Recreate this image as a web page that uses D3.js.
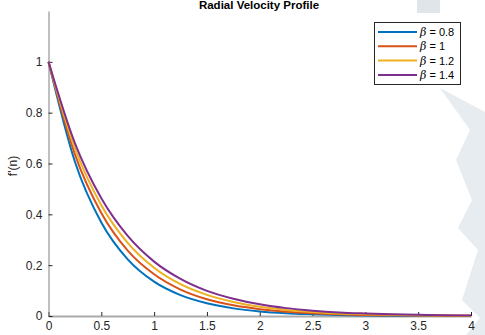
<!DOCTYPE html>
<html>
<head>
<meta charset="utf-8">
<script src="https://cdn.jsdelivr.net/npm/d3@7"></script>
<style>
  body { margin: 0; background: #fff; }
  svg { display: block; font-family: "Liberation Sans", Arial, sans-serif; }
</style>
</head>
<body>
<svg id="chart" width="485" height="335"></svg>
<script>
// eta positions where the curves were read
const eta = [0, 0.25, 0.5, 0.75, 1, 1.25, 1.5, 1.75, 2, 2.25, 2.5, 2.75, 3, 3.25, 3.5, 3.75, 4];

// f'(eta), one array per beta
const beta08 = [1, 0.607, 0.368, 0.223, 0.135, 0.082, 0.050, 0.030, 0.018, 0.011, 0.007, 0.004, 0.002, 0.001, 0.001, 0.000, 0.000];
const beta10 = [1, 0.636, 0.405, 0.257, 0.164, 0.104, 0.066, 0.042, 0.027, 0.017, 0.011, 0.007, 0.004, 0.003, 0.002, 0.001, 0.001];
const beta12 = [1, 0.660, 0.436, 0.288, 0.190, 0.125, 0.083, 0.055, 0.036, 0.024, 0.016, 0.010, 0.007, 0.005, 0.003, 0.002, 0.001];
const beta14 = [1, 0.680, 0.463, 0.315, 0.214, 0.146, 0.099, 0.068, 0.046, 0.031, 0.021, 0.014, 0.010, 0.007, 0.005, 0.003, 0.002];

const seriesNames = ["\u03B2 = 0.8", "\u03B2 = 1", "\u03B2 = 1.2", "\u03B2 = 1.4"];
const seriesValues = [beta08, beta10, beta12, beta14];
const colors = ["#0072BD", "#D95319", "#EDB120", "#7E2F8E"];

const xTicks = [0, 0.5, 1, 1.5, 2, 2.5, 3, 3.5, 4];
const yTicks = [0, 0.2, 0.4, 0.6, 0.8, 1];

const svg = d3.select("#chart");

// faint background watermark on the right edge
svg.append("rect").attr("x", 417).attr("y", 0).attr("width", 23).attr("height", 13).attr("fill", "#dfe5e9");
svg.append("path")
  .attr("d", "M440,88 L485,112 L485,335 L466,335 L480,318 L462,300 L478,250 L458,228 L472,200 L456,160 L470,130 Z")
  .attr("fill", "#e6ecef");

const x = d3.scaleLinear().domain([0, 4]).range([48.5, 471]);
const y = d3.scaleLinear().domain([0, 1.2]).range([316, 11]);

// title
svg.append("text")
  .attr("x", 259).attr("y", 9)
  .attr("text-anchor", "middle")
  .attr("font-size", 11.5).attr("font-weight", "bold")
  .attr("fill", "#000")
  .text("Radial Velocity Profile");

// axes
const xAxis = svg.append("g").attr("transform", "translate(0,316)")
  .call(d3.axisBottom(x).tickValues(xTicks).tickSizeInner(-4).tickSizeOuter(0).tickPadding(8)
    .tickFormat(d3.format("")));
const yAxis = svg.append("g").attr("transform", "translate(48.5,0)")
  .call(d3.axisLeft(y).tickValues(yTicks).tickSizeInner(-4).tickSizeOuter(0).tickPadding(6)
    .tickFormat(d3.format("")));

xAxis.select(".domain").attr("stroke", "#aaa").attr("stroke-width", 2);
yAxis.select(".domain").attr("stroke", "#808080");
[xAxis, yAxis].forEach(g => {
  g.selectAll(".tick line").attr("stroke", "#262626");
  g.selectAll(".tick text").attr("fill", "#262626").attr("font-size", 12)
    .attr("font-family", "Liberation Sans, Arial, sans-serif");
});
xAxis.selectAll(".tick text").attr("dy", "0.5em");

// y label
svg.append("text")
  .attr("transform", "translate(17,166) rotate(-90)")
  .attr("text-anchor", "middle")
  .attr("font-size", 12).attr("fill", "#262626")
  .text("f'(n)");

// curves
const line = d3.line()
  .x((d, i) => x(eta[i]))
  .y(d => y(d))
  .curve(d3.curveMonotoneX);

svg.append("g").selectAll("path")
  .data(seriesValues)
  .enter()
  .append("path")
  .attr("fill", "none")
  .attr("stroke", (d, i) => colors[i])
  .attr("stroke-width", 2)
  .attr("d", line);

// legend
const lg = svg.append("g").attr("transform", "translate(374,22)");
lg.append("rect").attr("x", 0.5).attr("y", 0.5).attr("width", 86).attr("height", 62)
  .attr("fill", "#fff").attr("stroke", "#262626");
seriesNames.forEach((name, i) => {
  const yy = 10 + i * 14.3;
  lg.append("line").attr("x1", 4).attr("x2", 43).attr("y1", yy).attr("y2", yy)
    .attr("stroke", colors[i]).attr("stroke-width", 2);
  const t = lg.append("text").attr("x", 46).attr("y", yy + 4)
    .attr("font-size", 11).attr("fill", "#000");
  t.append("tspan").attr("font-style", "italic").attr("font-family", "DejaVu Serif, serif").text("\u03B2");
  t.append("tspan").text(name.slice(1));
});
</script>
</body>
</html>
